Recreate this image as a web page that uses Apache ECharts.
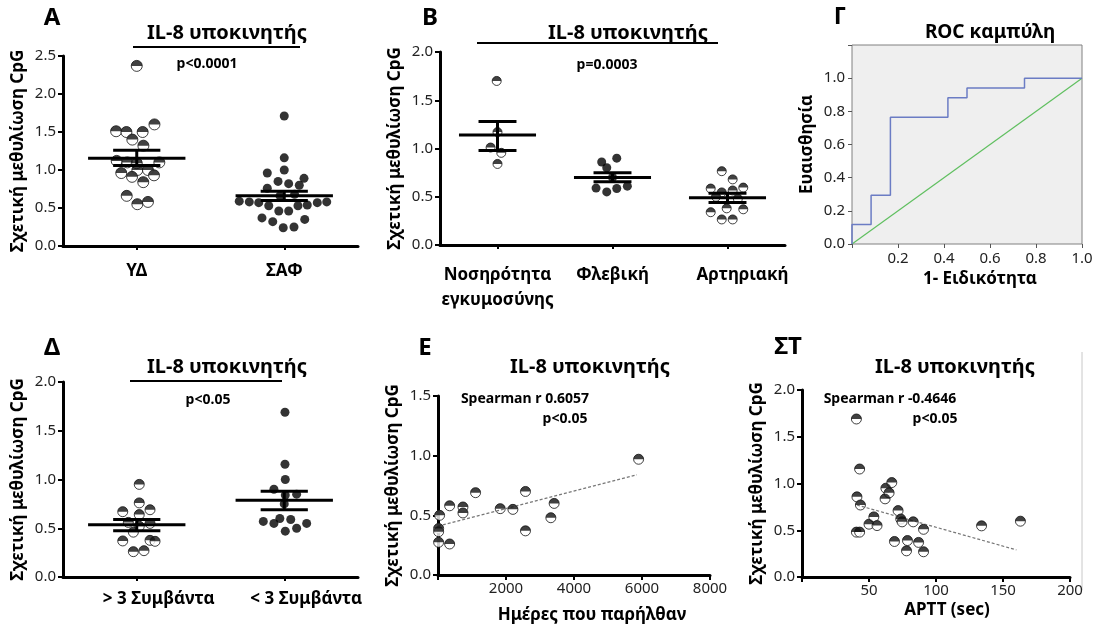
<!DOCTYPE html>
<html><head><meta charset="utf-8">
<script src="https://cdn.jsdelivr.net/npm/echarts@6/dist/echarts.min.js"></script>
<style>html,body{margin:0;padding:0;background:#fff}#c{width:1100px;height:630px}</style>
</head><body><div id="c"></div>
<script>
// ---------- DATA ----------
// Panel A
const catsA = ['ΥΔ', 'ΣΑΦ'];
const aYD = [2.37,1.51,1.50,1.50,1.60,1.40,1.32,1.12,1.10,1.10,0.96,1.00,1.00,0.91,0.93,0.84,0.66,0.55,0.58,1.09];
const aYDjit = [0.00,-0.14,-0.07,0.04,0.12,-0.03,0.045,-0.136,-0.064,0.153,-0.105,0.004,0.076,-0.032,0.117,0.044,-0.068,0.004,0.076,0];
const aSAF = [1.71,1.16,1.00,0.96,0.89,0.85,0.82,0.80,0.76,0.66,0.68,0.59,0.58,0.57,0.53,0.46,0.46,0.53,0.54,0.57,0.58,0.37,0.32,0.24,0.25,0.35];
const aSAFjit = [0,0,0,-0.115,0.134,-0.042,0.03,0.102,-0.115,-0.029,0.07,-0.305,-0.237,-0.173,-0.105,-0.037,0.03,0.093,0.156,0.224,0.288,-0.151,-0.078,-0.007,0.066,0.139];
const aMean = [1.155, 0.66];
const aSemHi = [1.26, 0.72];
const aSemLo = [1.06, 0.60];

// Panel B
const catsB = ['Νοσηρότητα\nεγκυμοσύνης', 'Φλεβική', 'Αρτηριακή'];
const bG1 = [1.70,1.17,1.01,0.955,0.84];
const bG1jit = [-0.007,0,-0.06,0.033,0];
const bG2 = [0.86,0.80,0.90,0.59,0.55,0.585,0.61,0.70];
const bG2jit = [-0.094,-0.05,0.037,-0.143,-0.05,0.037,0.129,0];
const bG3 = [0.765,0.68,0.585,0.545,0.565,0.595,0.34,0.38,0.37,0.265,0.265,0.50,0.48];
const bG3jit = [-0.05,0.045,-0.146,-0.05,0.045,0.137,-0.146,-0.007,0.137,-0.05,0.045,-0.1,0.09];
const bMean = [1.14, 0.70, 0.49];
const bSemHi = [1.28, 0.75, 0.535];
const bSemLo = [0.98, 0.655, 0.44];

// Panel Γ (ROC)
const rocFPR = [0,0,0.083,0.083,0.167,0.167,0.417,0.417,0.5,0.5,0.75,0.75,1.0];
const rocTPR = [0,0.118,0.118,0.294,0.294,0.765,0.765,0.882,0.882,0.941,0.941,1.0,1.0];
const refX = [0, 1];
const refY = [0, 1];

// Panel Δ
const catsD = ['> 3 Συμβάντα', '< 3 Συμβάντα'];
const dG1 = [0.95,0.76,0.67,0.69,0.64,0.56,0.55,0.52,0.46,0.37,0.376,0.366,0.26,0.27];
const dG1jit = [0.017,0.017,-0.095,0.09,0.017,-0.057,0.09,0.017,-0.023,-0.095,0.09,0.124,-0.023,0.049];
const dG2 = [1.69,1.156,1.0,0.90,0.84,0.85,0.75,0.57,0.55,0.60,0.59,0.47,0.50,0.55];
const dG2jit = [0.005,0.005,0.007,-0.07,0.007,0.084,0.0,-0.142,-0.07,-0.03,0.044,0.007,0.084,0.152];
const dMean = [0.537, 0.787];
const dSemHi = [0.59, 0.88];
const dSemLo = [0.475, 0.69];

// Panel E
const eDays = [5900,1105,2573,342,734,734,47,1830,2203,3416,3319,2573,18,18,18,342];
const eMeth = [0.97,0.69,0.70,0.58,0.57,0.52,0.50,0.556,0.55,0.60,0.48,0.37,0.39,0.363,0.274,0.26];
const eTrendX = [0, 5850];
const eTrendY = [0.41, 0.84];

// Panel ΣΤ
const stAPTT = [40.6,43,41,43.6,40.6,43,50,53.6,56,62,62.6,65,67,69,71.7,73.7,74.7,78,78.7,83,87,90.7,90.7,134,163];
const stMeth = [1.69,1.155,0.857,0.77,0.48,0.48,0.565,0.643,0.55,0.836,0.95,0.90,1.01,0.38,0.71,0.62,0.59,0.28,0.39,0.59,0.37,0.51,0.27,0.547,0.597];
const stTrendX = [41, 160];
const stTrendY = [0.77, 0.29];

// ---------- STYLE / HELPERS ----------
const FF = "'Noto Sans', 'DejaVu Sans', sans-serif";
const solidFill = {color:'#000', borderColor:'#000', borderWidth:0};
const zip = (xs, ys) => xs.map((x, i) => [x, ys[i]]);
const jitter = (center, jit, vals) => vals.map((v, i) => [center + jit[i], v]);
const msData = (m, hi, lo) => m.map((v, i) => [i + 0.5, v, hi[i], lo[i]]);
const HALF_PATH = 'path://M0 10 A10 10 0 0 1 20 10 Z';

// half-filled circle markers: white disc with black upper half
function halfSeries(xi, yi, data, size) {
  return [
    {type:'scatter', xAxisIndex:xi, yAxisIndex:yi, symbolSize:size,
      itemStyle:{color:'#fff', borderColor:'#111', borderWidth:1}, data:data, z:2},
    {type:'scatter', xAxisIndex:xi, yAxisIndex:yi, symbol:HALF_PATH, symbolKeepAspect:true,
      symbolSize:size, symbolOffset:[0, -size / 4], itemStyle:{color:'#111'}, data:data, z:3}
  ];
}

function meanSem(halfW, semW) {
  return function (params, api) {
    const x = api.value(0);
    const pm = api.coord([x, api.value(1)]);
    const ph = api.coord([x, api.value(2)]);
    const pl = api.coord([x, api.value(3)]);
    const hw = api.size([halfW, 0])[0];
    const sw = api.size([semW, 0])[0];
    const st = {stroke:'#000', lineWidth:3};
    return {type:'group', children:[
      {type:'line', shape:{x1:pm[0]-hw, y1:pm[1], x2:pm[0]+hw, y2:pm[1]}, style:st},
      {type:'line', shape:{x1:ph[0]-sw, y1:ph[1], x2:ph[0]+sw, y2:ph[1]}, style:st},
      {type:'line', shape:{x1:pl[0]-sw, y1:pl[1], x2:pl[0]+sw, y2:pl[1]}, style:st},
      {type:'line', shape:{x1:ph[0], y1:ph[1], x2:pl[0], y2:pl[1]}, style:st}
    ]};
  };
}

const axLine = {show:true, lineStyle:{color:'#000', width:3}};
const axTick = {show:true, inside:false, length:5, lineStyle:{color:'#000', width:2}};
const lab = {fontFamily:FF, fontSize:15, color:'#222'};
const yName = {fontFamily:FF, fontSize:17, fontWeight:'bold', color:'#000'};

function yAx(gi, max, interval, gap) {
  return {
    gridIndex:gi, type:'value', min:0, max:max, interval:interval,
    axisLine:axLine, axisTick:axTick, splitLine:{show:false},
    axisLabel:Object.assign({margin:7, formatter:v => v.toFixed(1)}, lab),
    name:'Σχετική μεθυλίωση CpG', nameLocation:'middle', nameGap:gap, nameTextStyle:yName
  };
}
function catX(gi, cats, labelExtra) {
  const cv = cats.map((c, i) => i + 0.5);
  return {
    gridIndex:gi, type:'value', min:0, max:cats.length,
    axisLine:axLine, splitLine:{show:false},
    axisTick:Object.assign({customValues:cv}, axTick, {length:4}),
    axisLabel:Object.assign({customValues:cv, fontFamily:FF, fontSize:17, fontWeight:'bold', color:'#000',
      formatter:v => cats[Math.floor(v)]}, labelExtra || {})
  };
}

const title = (t, x, y, size) => ({type:'text', x:x, y:y, style:{text:t, font:'bold ' + (size || 20) + 'px ' + FF, fill:'#000', align:'center', verticalAlign:'middle'}});
const hline = (x1, x2, y) => ({type:'line', shape:{x1:x1, y1:y, x2:x2, y2:y}, style:{stroke:'#000', lineWidth:2}});

const option = {
  animation:false,
  backgroundColor:'#fff',
  grid:[
    {left:63, top:56, width:295, height:190},
    {left:440, top:52, width:345, height:193},
    {left:852, top:45, width:230, height:199, show:true, backgroundColor:'#efefef', borderColor:'#808080', borderWidth:1},
    {left:63, top:382, width:295, height:195},
    {left:438, top:396, width:272, height:179},
    {left:802, top:390, width:268, height:187}
  ],
  xAxis:[
    catX(0, catsA, {margin:17}),
    catX(1, catsB, {margin:18, lineHeight:25,
      formatter:v => { const i = Math.floor(v); return i === 2 ? '{r|' + catsB[i] + '}' : catsB[i]; },
      rich:{r:{fontFamily:FF, fontSize:17, fontWeight:'bold', color:'#000', padding:[0,0,0,30]}}}),
    {gridIndex:2, type:'value', min:0, max:1, interval:0.2,
      axisLine:{show:false}, axisTick:{show:true, length:4, lineStyle:{color:'#555'}}, splitLine:{show:false},
      axisLabel:Object.assign({margin:7, formatter:v => v === 0 ? '' : v.toFixed(1)}, lab)},
    catX(3, catsD, {margin:14, padding:[0,0,0,44]}),
    {gridIndex:4, type:'value', min:0, max:8000, interval:2000,
      axisLine:axLine, axisTick:axTick, splitLine:{show:false},
      axisLabel:Object.assign({margin:6, formatter:v => v === 0 ? '' : String(v)}, lab)},
    {gridIndex:5, type:'value', min:0, max:200, interval:50,
      axisLine:axLine, axisTick:axTick, splitLine:{show:false},
      axisLabel:Object.assign({margin:6, formatter:v => v === 0 ? '' : String(v)}, lab)}
  ],
  yAxis:[
    yAx(0, 2.5, 0.5, 36),
    yAx(1, 2.0, 0.5, 36),
    {gridIndex:2, type:'value', min:0, max:1.2, interval:0.2,
      axisLine:{show:false}, axisTick:{show:true, length:4, lineStyle:{color:'#555'}}, splitLine:{show:false},
      axisLabel:Object.assign({margin:7, formatter:v => v > 1.05 ? '' : v.toFixed(1)}, lab),
      name:'Ευαισθησία', nameLocation:'middle', nameGap:36, nameTextStyle:yName},
    yAx(3, 2.0, 0.5, 36),
    yAx(4, 1.5, 0.5, 36),
    yAx(5, 2.0, 0.5, 36)
  ],
  series:[].concat(
    // A
    halfSeries(0, 0, jitter(0.5, aYDjit, aYD), 11),
    [{type:'scatter', xAxisIndex:0, yAxisIndex:0, symbolSize:9, itemStyle:solidFill, data:jitter(1.5, aSAFjit, aSAF)},
     {type:'custom', xAxisIndex:0, yAxisIndex:0, renderItem:meanSem(0.33, 0.16), encode:{x:0, y:[1,2,3]}, data:msData(aMean, aSemHi, aSemLo), z:5}],
    // B
    halfSeries(1, 1, jitter(0.5, bG1jit, bG1), 9),
    [{type:'scatter', xAxisIndex:1, yAxisIndex:1, symbolSize:9, itemStyle:solidFill, data:jitter(1.5, bG2jit, bG2)}],
    halfSeries(1, 1, jitter(2.5, bG3jit, bG3), 9),
    [{type:'custom', xAxisIndex:1, yAxisIndex:1, renderItem:meanSem(0.335, 0.165), encode:{x:0, y:[1,2,3]}, data:msData(bMean, bSemHi, bSemLo), z:5},
    // Γ
     {type:'line', xAxisIndex:2, yAxisIndex:2, symbol:'none', lineStyle:{color:'#5fbf5f', width:1.2}, data:zip(refX, refY)},
     {type:'line', xAxisIndex:2, yAxisIndex:2, symbol:'none', lineStyle:{color:'#6b7cc4', width:1.5}, data:zip(rocFPR, rocTPR)}],
    // Δ
    halfSeries(3, 3, jitter(0.5, dG1jit, dG1), 10),
    [{type:'scatter', xAxisIndex:3, yAxisIndex:3, symbolSize:9, itemStyle:solidFill, data:jitter(1.5, dG2jit, dG2)},
     {type:'custom', xAxisIndex:3, yAxisIndex:3, renderItem:meanSem(0.33, 0.16), encode:{x:0, y:[1,2,3]}, data:msData(dMean, dSemHi, dSemLo), z:5},
    // E
     {type:'line', xAxisIndex:4, yAxisIndex:4, symbol:'none', lineStyle:{color:'#777', width:1.2, type:[3,2]}, data:zip(eTrendX, eTrendY)}],
    halfSeries(4, 4, zip(eDays, eMeth), 10),
    // ΣΤ
    [{type:'line', xAxisIndex:5, yAxisIndex:5, symbol:'none', lineStyle:{color:'#777', width:1.2, type:[3,2]}, data:zip(stTrendX, stTrendY)}],
    halfSeries(5, 5, zip(stAPTT, stMeth), 10)
  ),
  graphic:[
    title('A', 52, 18, 24), title('IL-8 υποκινητής', 227, 33), hline(133, 300, 47), title('p<0.0001', 207, 64, 14),
    title('B', 430, 18, 24), title('IL-8 υποκινητής', 628, 33), hline(477, 718, 43), title('p=0.0003', 607, 65, 14),
    title('Γ', 840, 17, 24), title('ROC καμπύλη', 990, 33, 19), title('1- Ειδικότητα', 980, 279, 17),
    title('Δ', 52, 348, 24), title('IL-8 υποκινητής', 227, 367), hline(130, 282, 381), title('p<0.05', 208, 400, 14),
    title('E', 425, 348, 24), title('IL-8 υποκινητής', 590, 367), title('Spearman r 0.6057', 525, 399, 14), title('p<0.05', 565, 419, 14),
    title('Ημέρες που παρήλθαν', 592, 615, 17),
    title('ΣΤ', 788, 347, 24), title('IL-8 υποκινητής', 955, 367), title('Spearman r -0.4646', 890, 399, 14), title('p<0.05', 935, 419, 14),
    title('APTT (sec)', 947, 610, 17),
    {type:'line', shape:{x1:1082, y1:352, x2:1082, y2:590}, style:{stroke:'#c8c8c8', lineWidth:1}}
  ]
};
const chart = echarts.init(document.getElementById('c'), null, {renderer:'canvas'});
chart.setOption(option);
</script>
</body></html>
